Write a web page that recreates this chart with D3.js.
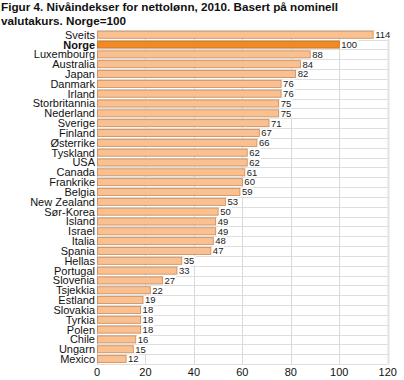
<!DOCTYPE html>
<html><head><meta charset="utf-8">
<script src="https://cdn.jsdelivr.net/npm/d3@7"></script>
<style>body{margin:0;background:#fff}svg{display:block}</style>
</head><body>
<svg id="c" width="404" height="380"></svg>
<script>
const countries = ["Sveits","Norge","Luxembourg","Australia","Japan","Danmark","Irland","Storbritannia","Nederland","Sverige","Finland","Østerrike","Tyskland","USA","Canada","Frankrike","Belgia","New Zealand","Sør-Korea","Island","Israel","Italia","Spania","Hellas","Portugal","Slovenia","Tsjekkia","Estland","Slovakia","Tyrkia","Polen","Chile","Ungarn","Mexico"];
const values = [114,100,88,84,82,76,76,75,75,71,67,66,62,62,61,60,59,53,50,49,49,48,47,35,33,27,22,19,18,18,18,16,15,12];
const xTicks = [0,20,40,60,80,100,120];
const highlight = "Norge";
const titleLines = ["Figur 4. Nivåindekser for nettolønn, 2010. Basert på nominell","valutakurs. Norge=100"];

const svg = d3.select("#c");
const font = "'Liberation Sans', Arial, sans-serif";
const x = d3.scaleLinear().domain([0,120]).range([97,387.7]);
const y = d3.scaleBand().domain(countries).range([29.8,364]).paddingInner(0.28).paddingOuter(0.14);
const step = y.step();

// title
svg.append("g").selectAll("text").data(titleLines).join("text")
  .attr("x",1).attr("y",(d,i)=>11+i*14)
  .attr("font-family",font).attr("font-weight","bold").attr("font-size","11.7px").attr("fill","#111")
  .text(d=>d);

const grid = svg.append("g");
const bounds = countries.map((c,i)=>y(c)-y.paddingInner()*step/2);
bounds.push(y(countries[countries.length-1])+y.bandwidth()+y.paddingInner()*step/2);
grid.selectAll("line.h").data(bounds).join("line")
  .attr("x1",x(0)).attr("x2",x(120)).attr("y1",d=>Math.round(d)+0.5).attr("y2",d=>Math.round(d)+0.5)
  .attr("stroke","#dedede").attr("stroke-width",1);
const yTop = Math.round(bounds[0])+0.5, yBot = Math.round(bounds[bounds.length-1])+0.5;
grid.selectAll("line.v").data(xTicks).join("line")
  .attr("x1",d=>Math.round(x(d))+0.5).attr("x2",d=>Math.round(x(d))+0.5)
  .attr("y1",yTop).attr("y2",yBot)
  .attr("stroke",d=>d===120?"#e3e3e3":"#dadada").attr("stroke-width",d=>d===120?2:1);

// bars
svg.append("g").selectAll("rect").data(countries).join("rect")
  .attr("x",x(0)+0.5).attr("y",d=>y(d))
  .attr("width",(d,i)=>x(values[i])-x(0)-0.5).attr("height",y.bandwidth())
  .attr("fill",d=>d===highlight?"#f08a24":"#fac08f")
  .attr("stroke",d=>d===highlight?"#c96e14":"#c8895a").attr("stroke-width",0.8);

// value labels
const vl = svg.append("g").selectAll("g").data(countries).join("g")
  .attr("transform",(d,i)=>`translate(${x(values[i])+1},${y(d)+y.bandwidth()/2})`);
vl.append("rect").attr("class","bg").attr("fill","#fff");
vl.append("text").attr("x",1).attr("dy","0.35em")
  .attr("font-family",font).attr("font-size","9.5px").attr("fill","#222")
  .text((d,i)=>values[i]);
vl.each(function(){
  const t=d3.select(this).select("text").node().getBBox();
  d3.select(this).select("rect").attr("x",t.x-0.5).attr("y",-4.5).attr("width",t.width+1.5).attr("height",9);
});

// category labels
svg.append("g").selectAll("text").data(countries).join("text")
  .attr("x",95).attr("y",d=>y(d)+y.bandwidth()/2).attr("dy","0.36em")
  .attr("text-anchor","end").attr("font-family",font).attr("font-size","11px")
  .attr("font-weight",d=>d===highlight?"bold":"normal").attr("fill","#111")
  .text(d=>d);

// x axis labels
svg.append("g").selectAll("text").data(xTicks).join("text")
  .attr("x",d=>x(d)).attr("y",376).attr("text-anchor","middle")
  .attr("font-family",font).attr("font-size","11px").attr("fill","#111")
  .text(d=>d);
</script>
</body></html>
